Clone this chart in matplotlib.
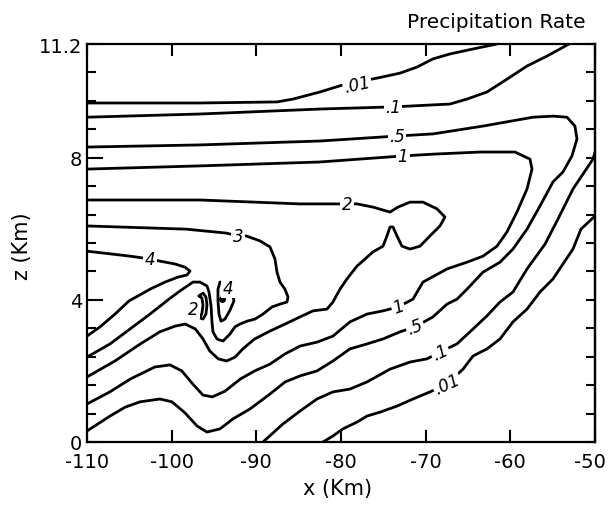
import matplotlib
matplotlib.use("Agg")
import matplotlib.pyplot as plt
from matplotlib.transforms import ScaledTranslation

plt.rcParams['font.family'] = ['DejaVu Sans']

# ---------------- data (x in km, z in km) ----------------
# contour .01 : upper branch (exits top) and lower branch (right edge -> bottom)
c001_up_x = [-110, -96.65, -87.56, -85.67, -82.48, -79.77, -75.75, -73.03, -71.03, -69.14, -67.13, -64.41, -61.58]
c001_up_z = [9.54, 9.54, 9.57, 9.65, 9.85, 10.05, 10.24, 10.38, 10.55, 10.78, 10.92, 11.06, 11.2]
c001_lo_x = [-50.0, -51.66, -52.60, -54.96, -56.50, -58.03, -59.69, -61.22, -62.76, -64.41, -65.59, -67.48,
             -69.49, -71.50, -73.39, -75.39, -76.93, -78.11, -79.77, -80.95, -82.13]
c001_lo_z = [6.36, 5.99, 5.43, 4.59, 4.22, 3.74, 3.38, 2.90, 2.62, 2.42, 2.05, 1.63,
             1.41, 1.21, 1.01, 0.84, 0.73, 0.56, 0.37, 0.17, 0.0]

# contour .1
c01_up_x = [-110, -96.65, -82.48, -73.86, -67.13, -65.12, -62.76, -60.40, -58.03, -55.67, -53.07]
c01_up_z = [9.14, 9.23, 9.37, 9.43, 9.51, 9.65, 9.85, 10.21, 10.58, 10.86, 11.2]
c01_lo_x = [-50.0, -50.24, -52.60, -54.49, -55.9, -58.03, -59.69, -61.22, -62.76, -64.41, -66.30, -68.31,
            -69.84, -71.85, -74.21, -76.93, -78.94, -80.95, -82.84, -84.84, -86.85, -89.21]
c01_lo_z = [8.16, 7.96, 7.12, 6.22, 5.57, 4.87, 4.22, 3.94, 3.55, 3.18, 2.76, 2.53,
            2.34, 2.25, 2.05, 1.69, 1.49, 1.41, 1.21, 0.87, 0.51, 0.0]

# contour .5
c05_x = [-110, -96.65, -82.48, -73.39, -69.14, -63.23, -57.32, -54.96, -53.31, -52.37, -52.13, -52.72,
         -53.78, -54.96, -56.50, -58.03, -59.69, -61.22, -63.23, -65.12, -66.30, -67.48, -69.14, -71.26,
         -73.03, -75.04, -76.93, -78.94, -80.95, -82.84, -84.84, -86.6, -88.39, -90.75, -92.76, -94.29,
         -95.83, -97.0, -98.43, -99.96, -101.38, -103.74, -105.5, -107.28, -110]
c05_z = [8.30, 8.36, 8.47, 8.61, 8.67, 8.89, 9.14, 9.17, 9.14, 8.89, 8.53, 8.05,
         7.60, 7.32, 6.64, 5.99, 5.43, 5.06, 4.78, 4.30, 4.02, 3.88, 3.52, 3.24,
         3.10, 2.90, 2.76, 2.62, 2.28, 2.00, 1.86, 1.69, 1.35, 0.93, 0.65, 0.37,
         0.28, 0.45, 0.82, 1.13, 1.21, 1.13, 0.98, 0.73, 0.31]

# contour 1
c1_x = [-110, -96.65, -82.48, -72.68, -69.14, -63.58, -59.45, -57.68, -57.44, -58.03, -59.22, -60.40,
        -61.58, -63.23, -65.12, -67.48, -70.32, -71.50, -73.27, -75.04, -76.93, -78.94, -80.95, -82.84,
        -84.84, -86.6, -88.4, -90.2, -91.9, -93.7, -95.2, -96.3, -97.5, -98.8, -100.2, -102.0, -104.9,
        -107.3, -110]
c1_z = [7.68, 7.77, 7.88, 8.05, 8.10, 8.16, 8.16, 7.96, 7.68, 7.12, 6.47, 5.91,
        5.51, 5.23, 5.06, 4.87, 4.50, 4.02, 3.80, 3.69, 3.60, 3.38, 2.98, 2.81,
        2.70, 2.48, 2.19, 2.0, 1.77, 1.43, 1.27, 1.32, 1.63, 2.0, 2.17, 2.11, 1.77,
        1.41, 1.07]

# contour 2
c2_x = [-110, -96.65, -84.84, -79.29, -78.11, -76.22, -74.21, -73.27, -71.85, -70.32, -68.66, -67.72,
        -68.31, -69.49, -70.67, -71.85, -72.80, -73.39, -73.86, -74.21, -74.57, -75.04, -76.22, -78.11,
        -79.29, -80.12, -80.95, -81.65, -83.31, -84.84, -86.6, -88.4, -90.2, -91.6, -92.5, -93.5,
        -94.5, -95.5, -96.3, -97.2, -98.4, -99.6, -101.4, -103.7, -106.7, -110]
c2_z = [6.81, 6.81, 6.70, 6.70, 6.70, 6.61, 6.47, 6.61, 6.75, 6.75, 6.56, 6.33,
        6.08, 5.80, 5.51, 5.43, 5.51, 5.80, 6.05, 6.05, 5.80, 5.51, 5.35, 4.95,
        4.59, 4.30, 3.94, 3.74, 3.69, 3.52, 3.32, 3.12, 2.90, 2.62, 2.39, 2.28,
        2.34, 2.56, 2.90, 3.18, 3.32, 3.26, 3.10, 2.76, 2.28, 1.83]

# contour 3
c3_x = [-110, -98.31, -93.58, -92.17, -91.22, -89.57, -88.39, -87.80, -87.56, -87.21, -86.62, -86.26,
        -86.38, -87.21, -88.15, -89.21, -90.16, -91.10, -91.93, -92.52, -93.11, -93.94, -94.65, -95.12,
        -95.24, -95.35, -95.59, -95.83, -96.65, -97.48, -99.02, -100.32, -102.56, -104.92, -107.28, -110]
c3_z = [6.08, 5.99, 5.88, 5.80, 5.80, 5.66, 5.49, 5.15, 4.78, 4.50, 4.30, 4.08,
        3.94, 3.88, 3.80, 3.60, 3.46, 3.40, 3.32, 3.24, 3.04, 2.84, 2.90, 3.10,
        3.38, 3.83, 4.22, 4.39, 4.50, 4.50, 4.25, 4.02, 3.60, 3.18, 2.76, 2.39]

# contour 4 (tongue from the left edge)
c4_x = [-110, -104.92, -102.56, -101.38, -99.61, -98.43, -97.83, -98.19, -99.25, -100.79, -102.56,
        -103.98, -105.04, -106.69, -108.46, -110]
c4_z = [5.37, 5.23, 5.15, 5.09, 5.01, 4.92, 4.81, 4.70, 4.64, 4.50, 4.30,
        4.11, 3.97, 3.60, 3.24, 2.98]

# small closed contour 2 (local minimum)
c2s_x = [-96.77, -96.30, -95.95, -95.83, -95.95, -96.30, -96.65, -96.42, -96.30, -96.42, -96.77]
c2s_z = [4.11, 4.19, 4.08, 3.85, 3.60, 3.46, 3.49, 3.63, 3.85, 4.05, 4.11]

# small closed contour 4 (local maximum), open at the label
c4s_x = [-93.58, -94.29, -94.53, -94.53, -94.41, -94.17, -93.70, -93.11, -92.64, -92.76]
c4s_z = [4.50, 4.50, 4.30, 3.97, 3.60, 3.40, 3.46, 3.71, 3.97, 4.11]

# maximum marker
max_x = [-94.06]
max_z = [4.02]

# contour labels: text, x, z, rotation
lab_text = ['.01', '.1', '.5', '1', '2', '3', '4', '2', '4', '1', '.5', '.1', '.01']
lab_x = [-78.1, -73.86, -73.39, -72.68, -79.29, -92.17, -102.56, -97.48, -93.35, -73.27, -71.26, -68.31, -67.48]
lab_z = [10.07, 9.43, 8.61, 8.05, 6.70, 5.80, 5.15, 3.74, 4.33, 3.80, 3.24, 2.53, 1.63]
lab_rot = [12, 0, 0, 0, 0, 0, 0, 0, 0, 20, 20, 25, 25]

# axes ticks
x_ticks = [-110, -100, -90, -80, -70, -60, -50]
x_tick_labels = ['-110', '-100', '-90', '-80', '-70', '-60', '-50']
y_ticks = [0, 4, 8, 11.2]
y_tick_labels = ['0', '4', '8', '11.2']
y_minor = [0.8, 1.6, 2.4, 3.2, 4.8, 5.6, 6.4, 7.2, 8.8, 9.6, 10.4]
y_all = [0, 0.8, 1.6, 2.4, 3.2, 4.0, 4.8, 5.6, 6.4, 7.2, 8.0, 8.8, 9.6, 10.4, 11.2]

# ---------------- figure ----------------
W, H = 611, 506
fig = plt.figure(figsize=(W / 100, H / 100), dpi=100)
ax = fig.add_axes([87 / W, 1 - 443 / H, (595 - 87) / W, (443 - 45) / H])

line_kw = dict(color='black', lw=2.0, solid_capstyle='round', solid_joinstyle='round', zorder=2)
for xs, zs in [(c001_up_x, c001_up_z), (c001_lo_x, c001_lo_z), (c01_up_x, c01_up_z), (c01_lo_x, c01_lo_z),
               (c05_x, c05_z), (c1_x, c1_z), (c2_x, c2_z), (c3_x, c3_z), (c4_x, c4_z),
               (c2s_x, c2s_z), (c4s_x, c4s_z)]:
    ax.plot(xs, zs, **line_kw)
ax.plot(max_x, max_z, 'o', color='black', ms=4, zorder=3)

for t, x, z, r in zip(lab_text, lab_x, lab_z, lab_rot):
    ax.text(x, z, t, fontsize=12, style='italic', ha='center', va='center', rotation=r,
            rotation_mode='anchor', zorder=4,
            bbox=dict(boxstyle='square,pad=0.08', facecolor='white', edgecolor='none'))

ax.set_xlim(-110, -50)
ax.set_ylim(0, 11.2)
ax.set_xticks(x_ticks)
ax.set_xticklabels(x_tick_labels)
ax.set_yticks(y_ticks)
ax.set_yticklabels(y_tick_labels)
ax.set_yticks(y_minor, minor=True)
ax.tick_params(axis='x', which='major', direction='in', length=8.6, width=1.5, top=True,
               labelsize=14, pad=7)
ax.tick_params(axis='y', which='major', direction='in', length=11.5, width=1.5, right=False,
               labelsize=14, pad=3.5)
ax.tick_params(axis='y', which='minor', direction='in', length=6.5, width=1.5, right=False)
for s in ax.spines.values():
    s.set_linewidth(1.6)

# nudge the last x tick label so it stays inside the figure
fig.canvas.draw()
last = ax.get_xticklabels()[-1]
last.set_transform(last.get_transform() + ScaledTranslation(-5 / 100, 0, fig.dpi_scale_trans))

sec = ax.secondary_yaxis('right')
sec.set_yticks(y_all)
sec.tick_params(direction='in', length=6.5, width=1.5, labelright=False)
sec.spines['right'].set_linewidth(1.6)

fig.text(496 / W, 1 - 22 / H, 'Precipitation Rate', ha='center', va='center', fontsize=14.5)
fig.text(338 / W, 1 - 489 / H, 'x (Km)', ha='center', va='center', fontsize=15)
fig.text(22 / W, 1 - 246 / H, 'z (Km)', ha='center', va='center', fontsize=15, rotation=90)

fig.savefig('out.png', dpi=100)
